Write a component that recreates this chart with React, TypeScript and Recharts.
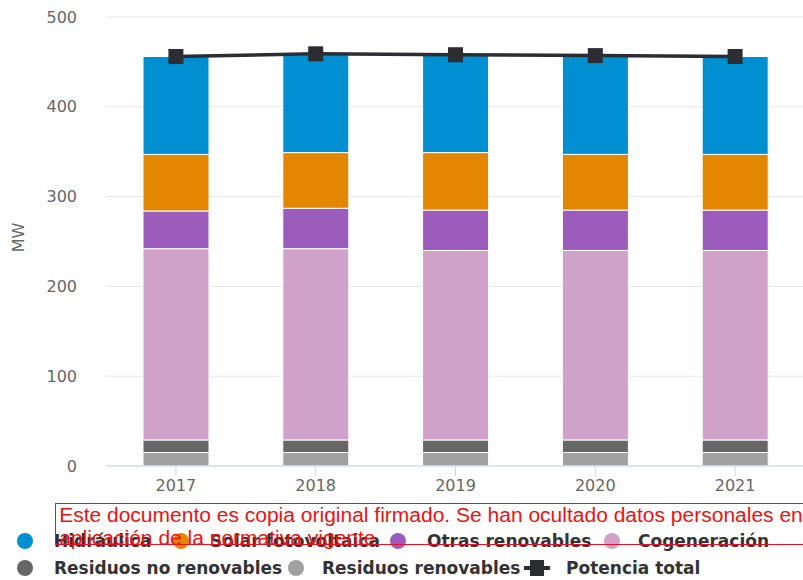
import { ComposedChart, Bar, Line, XAxis, YAxis, CartesianGrid } from "recharts"

const years = ["2017", "2018", "2019", "2020", "2021"]
const hidraulica = [109, 109, 109, 109, 109]
const solarFotovoltaica = [63, 62, 64, 62, 62]
const otrasRenovables = [42, 45, 45, 45, 45]
const cogeneracion = [213, 213, 211, 211, 211]
const residuosNoRenovables = [14, 14, 14, 14, 14]
const residuosRenovables = [15, 15, 15, 15, 15]
const potenciaTotal = [456, 459, 458, 457, 456]
const yTicks = [0, 100, 200, 300, 400, 500]

const data = years.map((year, i) => ({
  year,
  resRen: residuosRenovables[i],
  resNoRen: residuosNoRenovables[i],
  cogen: cogeneracion[i],
  otras: otrasRenovables[i],
  solar: solarFotovoltaica[i],
  hidr: hidraulica[i],
  total: potenciaTotal[i],
}))

// stacked bottom to top
const barSeries = [
  { key: "resRen", name: "Residuos renovables", color: "#a0a0a0" },
  { key: "resNoRen", name: "Residuos no renovables", color: "#666666" },
  { key: "cogen", name: "Cogeneración", color: "#d0a2c9" },
  { key: "otras", name: "Otras renovables", color: "#9b5cbb" },
  { key: "solar", name: "Solar fotovoltaica", color: "#e38600" },
  { key: "hidr", name: "Hidráulica", color: "#008fd1" },
]

const lineColor = "#2b2d33"
const font = "'DejaVu Sans', Verdana, sans-serif"

// legend rows as laid out in the picture
const legendRows = [
  [
    { name: "Hidráulica", color: "#008fd1", cx: 25, tx: 54 },
    { name: "Solar fotovoltaica", color: "#e38600", cx: 181, tx: 210 },
    { name: "Otras renovables", color: "#9b5cbb", cx: 398, tx: 427 },
    { name: "Cogeneración", color: "#d0a2c9", cx: 612, tx: 638 },
  ],
  [
    { name: "Residuos no renovables", color: "#666666", cx: 25, tx: 54 },
    { name: "Residuos renovables", color: "#a0a0a0", cx: 296, tx: 322 },
    { name: "Potencia total", color: lineColor, cx: 537, tx: 566, line: true },
  ],
]

const SquareDot = (props: any) => {
  const { cx, cy } = props
  return <rect x={cx - 7.5} y={cy - 7.5} width={15} height={15} fill={lineColor} />
}

const ChartLegend = () => (
  <div style={{ position: "absolute", left: 0, top: 528, width: 803, fontFamily: font }}>
    {legendRows.map((row, r) => (
      <div key={r} style={{ position: "relative", height: 27 }}>
        {row.map((item) => (
          <div key={item.name}>
            {item.line ? (
              <svg style={{ position: "absolute", left: item.cx - 13, top: 5 }} width={26} height={16}>
                <line x1={0} y1={8} x2={26} y2={8} stroke={lineColor} strokeWidth={4} />
                <rect x={6} y={0} width={14} height={16} fill={lineColor} />
              </svg>
            ) : (
              <span
                style={{
                  position: "absolute",
                  left: item.cx - 8,
                  top: 5,
                  width: 16,
                  height: 16,
                  borderRadius: 8,
                  background: item.color,
                }}
              />
            )}
            <span
              style={{
                position: "absolute",
                left: item.tx,
                top: 0,
                fontSize: 17,
                fontWeight: 700,
                color: "#333333",
                lineHeight: "26px",
                whiteSpace: "nowrap",
              }}
            >
              {item.name}
            </span>
          </div>
        ))}
      </div>
    ))}
  </div>
)

const App = () => {
  return (
    <div
      style={{
        position: "fixed",
        left: 0,
        top: 0,
        width: 803,
        height: 580,
        overflow: "hidden",
        background: "#ffffff",
        fontFamily: font,
      }}
    >
      <ComposedChart
        width={805}
        height={500}
        data={data}
        margin={{ top: 17, right: 0, left: 0, bottom: 0 }}
        barSize={66}
      >
        <CartesianGrid vertical={false} stroke="#e6e6e6" />
        <XAxis
          dataKey="year"
          height={34}
          axisLine={{ stroke: "#ccd6eb" }}
          tickLine={{ stroke: "#ccd6eb" }}
          tickSize={10}
          tickMargin={4}
          tick={{ fill: "#666666", fontSize: 16, fontFamily: font }}
        />
        <YAxis
          width={106}
          domain={[0, 500]}
          ticks={yTicks}
          axisLine={false}
          tickLine={false}
          tickSize={6}
          tickMargin={23}
          tick={{ fill: "#666666", fontSize: 16, fontFamily: font }}
          label={(props: any) => {
            const vb = props.viewBox
            const x = vb.x + 18
            const y = vb.y + vb.height / 2 - 4
            return (
              <text
                x={x}
                y={y}
                transform={`rotate(-90, ${x}, ${y})`}
                textAnchor="middle"
                dominantBaseline="central"
                fill="#666666"
                fontSize={16}
                fontFamily={font}
              >
                MW
              </text>
            )
          }}
        />
        {barSeries.map((s) => (
          <Bar
            key={s.key}
            dataKey={s.key}
            name={s.name}
            stackId="a"
            fill={s.color}
            stroke="#ffffff"
            strokeWidth={1}
            isAnimationActive={false}
          />
        ))}
        <Line
          type="linear"
          dataKey="total"
          name="Potencia total"
          stroke={lineColor}
          strokeWidth={3.5}
          dot={<SquareDot />}
          activeDot={false}
          isAnimationActive={false}
        />
      </ComposedChart>
      <ChartLegend />
      <div
        style={{
          position: "absolute",
          left: 55,
          top: 503,
          width: 800,
          height: 40,
          border: "1px solid #e8102a",
        }}
      >
        <div
          style={{
            color: "#ee1111",
            fontFamily: "'Liberation Sans', Arial, sans-serif",
            fontSize: 20,
            lineHeight: "23px",
            paddingLeft: 3,
            whiteSpace: "nowrap",
            transform: "scaleX(1.05)",
            transformOrigin: "left top",
          }}
        >
          Este documento es copia original firmado. Se han ocultado datos personales en
          <br />
          aplicación de la normativa vigente
        </div>
      </div>
    </div>
  )
}

export default App
